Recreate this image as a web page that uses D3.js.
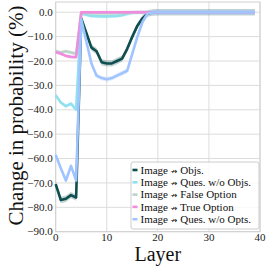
<!DOCTYPE html>
<html>
<head>
<meta charset="utf-8">
<script src="https://cdn.jsdelivr.net/npm/d3@7"></script>
<style>
  body { margin: 0; background: #fff; }
  svg { display: block; font-family: "Liberation Serif", "Times New Roman", serif; }
</style>
</head>
<body>
<div id="chart"></div>
<script>
// layers 0..39
var layers = d3.range(0, 40);

var seriesNames = [
    "Image \u219B Objs.",
    "Image \u219B Ques. w/o Objs.",
    "Image \u219B False Option",
    "Image \u219B True Option",
    "Image \u219B Ques. w/o Opts."
];
var seriesColors = ["#0e4e4f", "#90e0ef", "#b9d5cb", "#f08bdd", "#a0c4ff"];

var objs = [-70.5, -77, -76.5, -75, -76, -2.5, -8.5, -14.5, -16, -20.5, -21, -21, -20, -19, -15, -10, -5.5, -2.5, -0.5, -0.1,
    0, 0, 0, 0, 0, 0, 0, 0, 0, 0, 0, 0, 0, 0, 0, 0, 0, 0, 0, 0];
var quesNoObjs = [-34, -37, -38.5, -37.5, -40, -0.5, -1, -1.5, -1.6, -1.7, -1.7, -1.6, -1.5, -1.2, -0.6, -0.2, -0.1, 0, 0, 0,
    0, 0, 0, 0, 0, 0, 0, 0, 0, 0, 0, 0, 0, 0, 0, 0, 0, 0, 0, 0];
var falseOpt = [-16, -16.5, -16, -16.5, -17, -0.3, -0.3, -0.4, -0.4, -0.4, -0.4, -0.4, -0.3, -0.3, -0.2, -0.1, 0, 0, 0, 0,
    0, 0, 0, 0, 0, 0, 0, 0, 0, 0, 0, 0, 0, 0, 0, 0, 0, 0, 0, 0];
var trueOpt = [-16.3, -17, -17.9, -18.3, -18.4, 0, 0, 0, 0, 0, 0, 0, 0, 0, 0, 0, 0, 0, 0, 0,
    0, 0, 0, 0, 0, 0, 0, 0, 0, 0, 0, 0, 0, 0, 0, 0, 0, 0, 0, 0];
var quesNoOpts = [-58.5, -64, -69, -63, -69, -3, -12, -21, -26, -27, -27.5, -27, -26, -25, -24, -17, -10, -4, -0.5, -0.1,
    0, 0, 0, 0, 0, 0, 0, 0, 0, 0, 0, 0, 0, 0, 0, 0, 0, 0, 0, 0];
// half width of the shaded band round each line
var spread = [1.3, 0.8, 0.8, 0.6, 1.0];

var xTicks = [0, 10, 20, 30, 40];
var yTicks = [0, -10, -20, -30, -40, -50, -60, -70, -80, -90];

var allSeries = [objs, quesNoObjs, falseOpt, trueOpt, quesNoOpts];

var width = 266, height = 266;
var plot = { left: 55.7, right: 260, top: 2, bottom: 231.7 };

var svg = d3.select('#chart').append('svg')
    .attr('width', width)
    .attr('height', height);

var x = d3.scaleLinear().domain([0, 40]).range([plot.left, plot.right]);
var y = d3.scaleLinear().domain([-90, 4.2]).range([plot.bottom, plot.top]);

// grid
var grid = svg.append('g');
grid.selectAll('.vgrid').data(xTicks).enter().append('line')
    .attr('x1', d => x(d)).attr('x2', d => x(d))
    .attr('y1', plot.top).attr('y2', plot.bottom)
    .attr('stroke', '#dcdcdc').attr('stroke-width', 1);
grid.selectAll('.hgrid').data(yTicks).enter().append('line')
    .attr('x1', plot.left).attr('x2', plot.right)
    .attr('y1', d => y(d)).attr('y2', d => y(d))
    .attr('stroke', '#dcdcdc').attr('stroke-width', 1);

// frame
svg.append('rect')
    .attr('x', plot.left).attr('y', plot.top)
    .attr('width', plot.right - plot.left).attr('height', plot.bottom - plot.top)
    .attr('fill', 'none').attr('stroke', '#d0d0d0').attr('stroke-width', 1);

var line = d3.line()
    .x((d, i) => x(layers[i]))
    .y(d => y(d));

allSeries.forEach(function (vals, k) {
    var area = d3.area()
        .x((d, i) => x(layers[i]))
        .y0(d => y(d - spread[k]))
        .y1(d => y(d + spread[k]));
    svg.append('path')
        .datum(vals)
        .attr('d', area)
        .attr('fill', seriesColors[k])
        .attr('opacity', 0.25);
    svg.append('path')
        .datum(vals)
        .attr('d', line)
        .attr('fill', 'none')
        .attr('stroke', seriesColors[k])
        .attr('stroke-width', 2.6)
        .attr('stroke-linejoin', 'round');
});

// tick labels
svg.selectAll('.ytick').data(yTicks).enter().append('text')
    .attr('x', plot.left - 3)
    .attr('y', d => y(d))
    .attr('dy', '0.33em')
    .attr('text-anchor', 'end')
    .attr('font-size', 11)
    .attr('fill', '#222')
    .text(d => d3.format('.1f')(d));

svg.selectAll('.xtick').data(xTicks).enter().append('text')
    .attr('x', d => x(d))
    .attr('y', 241)
    .attr('text-anchor', 'middle')
    .attr('font-size', 11)
    .attr('fill', '#222')
    .text(d => d);

// axis titles
svg.append('text')
    .attr('x', (plot.left + plot.right) / 2)
    .attr('y', 261)
    .attr('text-anchor', 'middle')
    .attr('font-size', 20)
    .attr('fill', '#111')
    .text('Layer');

svg.append('text')
    .attr('transform', 'translate(22.5,' + 115.5 + ') rotate(-90)')
    .attr('text-anchor', 'middle')
    .attr('font-size', 21)
    .attr('fill', '#111')
    .text('Change in probability (%)');

// legend
var legend = svg.append('g');
legend.append('rect')
    .attr('x', 131).attr('y', 162)
    .attr('width', 128).attr('height', 67)
    .attr('rx', 2)
    .attr('fill', '#fff').attr('fill-opacity', 0.8)
    .attr('stroke', '#cccccc').attr('stroke-width', 1);

var rows = legend.selectAll('.row').data(seriesNames).enter().append('g')
    .attr('transform', (d, i) => 'translate(0,' + (170 + i * 12.3) + ')');
rows.append('line')
    .attr('x1', 132.5).attr('x2', 137.5)
    .attr('y1', 0).attr('y2', 0)
    .attr('stroke', (d, i) => seriesColors[i])
    .attr('stroke-width', 2.6);
var labels = rows.append('text')
    .attr('x', 140.5)
    .attr('dy', '0.35em')
    .attr('font-size', 11)
    .attr('fill', '#111');
labels.each(function (d) {
    var parts = d.split('\u219B');
    var t = d3.select(this);
    t.append('tspan').text(parts[0]);
    t.append('tspan')
        .attr('font-family', 'DejaVu Sans')
        .attr('font-size', 8)
        .text('\u219B');
    t.append('tspan').text(parts[1]);
});
</script>
</body>
</html>
